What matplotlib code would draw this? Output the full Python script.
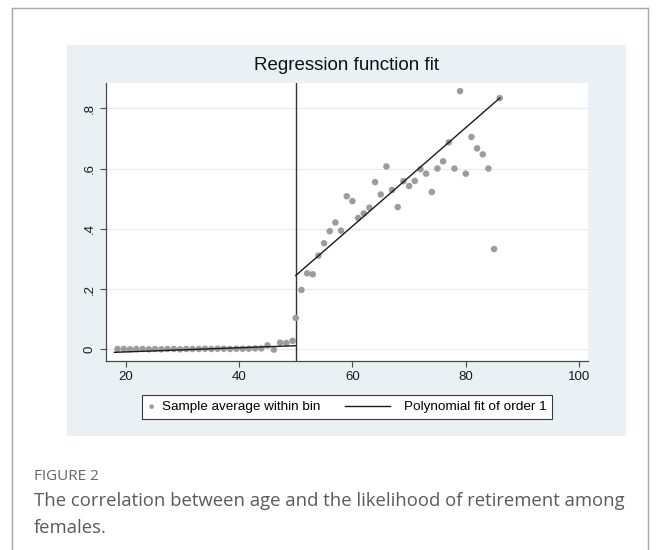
import matplotlib
matplotlib.use("Agg")
import matplotlib.pyplot as plt
from matplotlib.lines import Line2D
from matplotlib.patches import Rectangle
from matplotlib.legend_handler import HandlerLine2D

# Bin averages below the cutoff (29 evenly spaced bins over ages 18-50)
left_age = [18.55, 19.66, 20.76, 21.86, 22.97, 24.07, 25.17, 26.28, 27.38,
            28.48, 29.59, 30.69, 31.79, 32.90, 34.00, 35.10, 36.21, 37.31,
            38.41, 39.52, 40.62, 41.72, 42.83, 43.93, 45.03, 46.14, 47.24,
            48.34, 49.45]
left_share = [0.001, 0.001, 0.000, 0.001, 0.001, 0.000, 0.001, 0.000, 0.001,
              0.001, 0.000, 0.001, 0.001, 0.001, 0.002, 0.001, 0.002, 0.002,
              0.001, 0.002, 0.002, 0.002, 0.003, 0.003, 0.013, -0.001, 0.022,
              0.021, 0.028]

# Bin averages from the cutoff on
right_age = list(range(50, 87))
right_share = [0.104, 0.197, 0.252, 0.249, 0.311, 0.352, 0.392, 0.421, 0.394,
               0.508, 0.492, 0.436, 0.451, 0.470, 0.555, 0.514, 0.607, 0.529,
               0.472, 0.558, 0.542, 0.559, 0.598, 0.583, 0.522, 0.600, 0.624,
               0.687, 0.600, 0.857, 0.583, 0.705, 0.667, 0.647, 0.600, 0.333,
               0.834]

# Linear fits on each side of the cutoff
fit_left_age = [18, 50]
fit_left_share = [-0.010, 0.012]
fit_right_age = [50, 86]
fit_right_share = [0.245, 0.834]

cutoff = 50
xtick_vals = [20, 40, 60, 80, 100]
ytick_vals = [0, 0.2, 0.4, 0.6, 0.8]
ytick_text = ["0", ".2", ".4", ".6", ".8"]

W, H = 659, 550
fig = plt.figure(figsize=(W / 100, H / 100), dpi=100)
fig.patch.set_facecolor("white")


def px(x0, y0):
    # pixel position (from top-left) -> figure fraction
    return x0 / W, 1 - y0 / H


# outer frame of the figure box
frame_kw = dict(color="#a8a8a8", lw=1.0, transform=fig.transFigure)
fig.add_artist(Line2D([12 / W, 12 / W], [1 - 8 / H, 0], **frame_kw))
fig.add_artist(Line2D([648 / W, 648 / W], [1 - 8 / H, 0], **frame_kw))
fig.add_artist(Line2D([12 / W, 648 / W], [1 - 8 / H, 1 - 8 / H], **frame_kw))

# light blue graph region
gx, gy = px(67, 436)
fig.add_artist(Rectangle((gx, gy), (626 - 67) / W, (436 - 45) / H,
                         transform=fig.transFigure, facecolor="#eaf1f4",
                         edgecolor="none", zorder=0))

ax_l, ax_b = px(106, 361)
ax = fig.add_axes([ax_l, ax_b, (588 - 106) / W, (361 - 83.3) / H])
ax.set_facecolor("white")
ax.set_zorder(1)

ax.scatter(left_age, left_share, s=22, color="#9c9c9c", edgecolors="none",
           zorder=3, label="Sample average within bin")
ax.scatter(right_age, right_share, s=22, color="#9c9c9c", edgecolors="none",
           zorder=3)
ax.plot(fit_left_age, fit_left_share, color="#1a1a1a", lw=1.0, zorder=4,
        label="Polynomial fit of order 1")
ax.plot(fit_right_age, fit_right_share, color="#1a1a1a", lw=1.0, zorder=4)
ax.axvline(cutoff, color="#333333", lw=1.0, zorder=2)

ax.set_xlim(16.52, 101.57)
ax.set_ylim(-0.0388, 0.883)
ax.set_xticks(xtick_vals)
ax.set_yticks(ytick_vals)
ax.set_yticklabels(ytick_text)
ax.grid(axis="y", color="#e3ebf0", lw=0.8, zorder=1)
ax.set_axisbelow(True)

for side in ["top", "right"]:
    ax.spines[side].set_visible(False)
for side in ["left", "bottom"]:
    ax.spines[side].set_color("#4a4a4a")
    ax.spines[side].set_linewidth(0.9)

ax.tick_params(axis="both", direction="out", length=4, width=0.8,
               color="#4a4a4a", labelsize=9.5, labelcolor="#1a1a1a")
ax.tick_params(axis="x", pad=3)
ax.tick_params(axis="y", pad=3.4)
for lab in ax.get_xticklabels() + ax.get_yticklabels():
    lab.set_family("Liberation Sans")
for lab in ax.get_yticklabels():
    lab.set_rotation(90)
    lab.set_va("center")

tx, ty = px(347, 66)
fig.text(tx, ty, "Regression function fit", ha="center", va="center",
         fontsize=13.5, family="Liberation Sans", color="#111111")


class LongLineHandler(HandlerLine2D):
    # fit line sample reaching back into the column gap
    def create_artists(self, legend, orig_handle, xdescent, ydescent,
                       width, height, fontsize, trans):
        y = (height - ydescent) / 2
        x1 = -xdescent + width - 5.4
        line = Line2D([x1 - 32, x1], [y, y])
        self.update_prop(line, orig_handle, legend)
        line.set_transform(trans)
        return [line]


handles, labels = ax.get_legend_handles_labels()
lx, ly = px(347, 407)
leg = ax.legend(handles, labels, loc="center", bbox_to_anchor=(lx, ly),
                bbox_transform=fig.transFigure, ncol=2, frameon=True,
                fancybox=False, edgecolor="#3a3a3a", framealpha=1,
                prop={"family": "Liberation Sans", "size": 9.7},
                handlelength=0.6, handletextpad=0.48, columnspacing=5.1,
                borderpad=0.4, markerscale=0.7,
                handler_map={Line2D: LongLineHandler()})
leg.get_frame().set_linewidth(0.8)

fig.text(34 / W, 1 - 476 / H, "FIGURE 2", ha="left", va="center",
         fontsize=11, family="Open Sans", color="#666666")
fig.text(34 / W, 1 - 501 / H,
         "The correlation between age and the likelihood of retirement among",
         ha="left", va="center", fontsize=13.3, family="Open Sans",
         color="#5a5a5a")
fig.text(34 / W, 1 - 528 / H, "females.", ha="left", va="center",
         fontsize=13.3, family="Open Sans", color="#5a5a5a")

fig.savefig("out.png", dpi=100)
